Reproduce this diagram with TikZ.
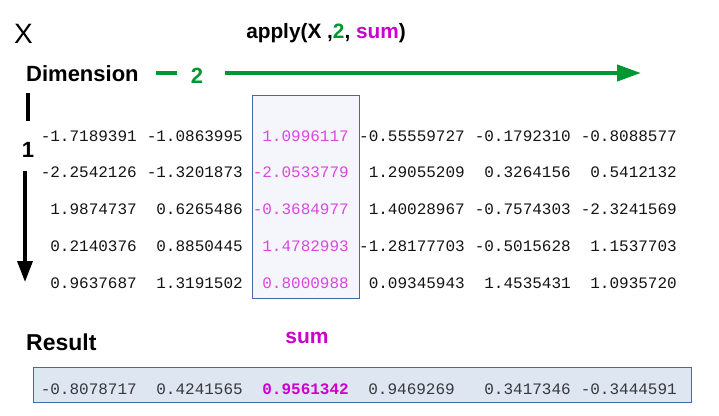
\documentclass[tikz,border=0pt]{standalone}
\usepackage{fontspec}
\setmainfont{Liberation Sans}
\newfontfamily\monofnt{Liberation Mono}
\usetikzlibrary{arrows.meta}
\definecolor{grn}{RGB}{0,150,50}
\definecolor{mag}{RGB}{204,0,204}
\definecolor{colmag}{RGB}{218,72,222}
\definecolor{boxline}{RGB}{68,105,170}
\definecolor{colfill}{RGB}{245,245,252}
\definecolor{resfill}{RGB}{222,230,242}
\definecolor{restext}{RGB}{55,55,60}
\definecolor{numtext}{RGB}{20,20,20}
\tikzset{
  lbl/.style={inner sep=0pt, font=\fontsize{22}{26}\selectfont\bfseries},
  num/.style={inner sep=0pt, anchor=base east, font=\fontsize{16}{18}\selectfont\monofnt, text=numtext},
  colnum/.style={num, text=colmag},
  resnum/.style={num, text=restext},
  resbold/.style={num, text=mag, font=\fontsize{16}{18}\selectfont\monofnt\bfseries},
  boxstyle/.style={draw=boxline, line width=1.2pt, inner sep=0pt, anchor=north west}
}
\begin{document}
\begin{tikzpicture}[x=1pt,y=-1pt]
\useasboundingbox (0,0) rectangle (719,415);
\fill[white] (0,0) rectangle (719,415);

% boxes
\node[boxstyle, fill=colfill, minimum width=107pt, minimum height=203pt] (colbox) at (252,95) {};
\node[boxstyle, fill=resfill, minimum width=658pt, minimum height=35pt] (resbox) at (33,367) {};

% labels
\node[inner sep=0pt, font=\fontsize{28}{30}\selectfont] (X) at (23.5,34) {X};
\node[inner sep=0pt, font=\fontsize{20.8}{24}\selectfont\bfseries] (apply) at (326,33) {apply(X ,{\color{grn}2}, {\color{mag}sum})};
\node[lbl, anchor=west] (dim) at (26,74) {Dimension};
\node[lbl, text=grn] (two) at (197,76) {2};
\node[lbl] (one) at (28,150) {1};
\node[lbl, anchor=west, font=\fontsize{23}{26}\selectfont\bfseries] (res) at (26,342) {Result};
\node[inner sep=0pt, font=\fontsize{21}{24}\selectfont\bfseries, text=mag] (sumlbl) at (307,338) {sum};

% green dimension-2 arrow
\coordinate (d1) at (156,73);
\coordinate (d2) at (177,73);
\coordinate (ga) at (225,73);
\coordinate (gb) at (641,73);
\draw[grn, line width=4pt] (d1) -- (d2);
\draw[grn, line width=4pt, -{Triangle[length=24pt,width=16pt]}] (ga) -- (gb);

% black dimension-1 arrow
\coordinate (v1) at (28,93);
\coordinate (v2) at (28,121);
\coordinate (a1) at (25,171);
\coordinate (a2) at (25,282);
\draw[black, line width=3.5pt] (v1) -- (v2);
\draw[black, line width=3.5pt, -{Triangle[length=21pt,width=15pt]}] (a1) -- (a2);

% matrix values
\foreach \r/\y/\a/\b/\c/\d/\e/\f in {
  1/135.5/-1.7189391/-1.0863995/1.0996117/-0.55559727/-0.1792310/-0.8088577,
  2/172.3/-2.2542126/-1.3201873/-2.0533779/1.29055209/0.3264156/0.5412132,
  3/209.1/1.9874737/0.6265486/-0.3684977/1.40028967/-0.7574303/-2.3241569,
  4/246.2/0.2140376/0.8850445/1.4782993/-1.28177703/-0.5015628/1.1537703,
  5/282.8/0.9637687/1.3191502/0.8000988/0.09345943/1.4535431/1.0935720}{
  \node[num] (m\r-1) at (137,\y+5.6) {\a};
  \node[num] (m\r-2) at (243,\y+5.6) {\b};
  \node[colnum] (m\r-3) at (349,\y+5.6) {\c};
  \node[num] (m\r-4) at (465,\y+5.6) {\d};
  \node[num] (m\r-5) at (571,\y+5.6) {\e};
  \node[num] (m\r-6) at (677,\y+5.6) {\f};
}

% result values
\node[resnum] (r1) at (137,394.6) {-0.8078717};
\node[resnum] (r2) at (243,394.6) {0.4241565};
\node[resbold] (r3) at (349,394.6) {0.9561342};
\node[resnum] (r4) at (455,394.6) {0.9469269};
\node[resnum] (r5) at (571,394.6) {0.3417346};
\node[resnum] (r6) at (677,394.6) {-0.3444591};
\end{tikzpicture}
\end{document}
